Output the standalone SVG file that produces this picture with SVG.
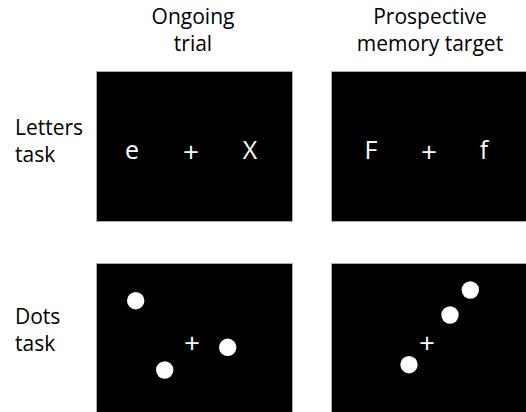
<svg xmlns="http://www.w3.org/2000/svg" width="526" height="412" viewBox="0 0 526 412">
<style>
.lbl{font-family:"Open Sans","Noto Sans","Liberation Sans",sans-serif;font-size:21px;fill:#000}
.c{text-anchor:middle}
.scr{fill:#000;stroke:#aaa;stroke-width:1}
.st{font-family:"Open Sans","Noto Sans","Liberation Sans",sans-serif;font-size:25px;fill:#fff;text-anchor:middle}
.pl{font-family:"Open Sans","Noto Sans","Liberation Sans",sans-serif;font-size:28px;fill:#fff;text-anchor:middle}
.dot{fill:#fff}
</style>
<rect width="526" height="412" fill="#fff"/>
<g id="header-ongoing"><text class="lbl c" x="193" y="24">Ongoing</text><text class="lbl c" x="193" y="51">trial</text></g>
<g id="header-pm"><text class="lbl c" x="430" y="24">Prospective</text><text class="lbl c" x="430" y="51">memory target</text></g>
<g id="row-letters"><text class="lbl" x="15" y="135">Letters</text><text class="lbl" x="15" y="162">task</text></g>
<g id="row-dots"><text class="lbl" x="15" y="324">Dots</text><text class="lbl" x="15" y="351">task</text></g>
<g id="letters-ongoing">
<rect class="scr" x="96.5" y="71.5" width="196" height="150"/>
<text class="st" x="132" y="159">e</text><text class="pl" x="191" y="162">+</text><text class="st" x="250" y="159">X</text>
</g>
<g id="letters-pm">
<rect class="scr" x="331.5" y="71.5" width="196" height="150"/>
<text class="st" x="371" y="159">F</text><text class="pl" x="429" y="162">+</text><text class="st" x="484" y="159">f</text>
</g>
<g id="dots-ongoing">
<rect class="scr" x="96.5" y="263.5" width="196" height="152"/>
<circle class="dot" cx="135.7" cy="300.7" r="8.7"/>
<circle class="dot" cx="227.7" cy="347.3" r="8.7"/>
<circle class="dot" cx="164.7" cy="370" r="8.7"/>
<text class="pl" x="192" y="353">+</text>
</g>
<g id="dots-pm">
<rect class="scr" x="331.5" y="263.5" width="196" height="152"/>
<circle class="dot" cx="470.3" cy="290" r="8.7"/>
<circle class="dot" cx="450" cy="315" r="8.7"/>
<circle class="dot" cx="409" cy="364.7" r="8.7"/>
<text class="pl" x="427" y="353">+</text>
</g>
<g id="connectors"/>
</svg>
